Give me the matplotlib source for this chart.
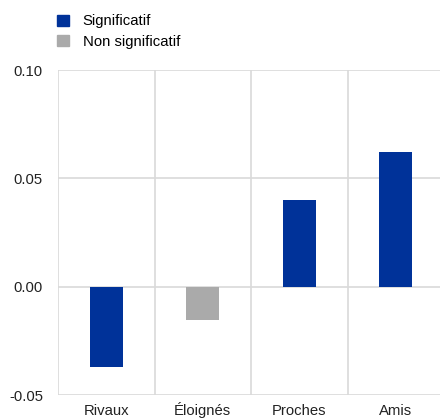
import matplotlib
matplotlib.use("Agg")
import matplotlib.pyplot as plt
from matplotlib.patches import Patch

plt.rcParams['font.family'] = ['Liberation Sans', 'DejaVu Sans']

categories = ["Rivaux", "Éloignés", "Proches", "Amis"]
values = [-0.037, -0.0152, 0.040, 0.062]
significant = [True, False, True, True]
y_ticks = [-0.05, 0.00, 0.05, 0.10]
y_tick_labels = ["-0.05", "0.00", "0.05", "0.10"]

BLUE = "#003299"
GREY = "#aaaaaa"
GRID = "#d9d9d9"
FS = 10.7

W, H = 440, 419
fig = plt.figure(figsize=(W / 100, H / 100), dpi=100)
# axes placed in pixel units
left, right, top, bottom = 58, 444, 70, 395
ax = fig.add_axes([left / W, 1 - bottom / H, (right - left) / W, (bottom - top) / H])

x = range(len(categories))
colors = [BLUE if s else GREY for s in significant]
ax.bar(x, values, width=0.34, color=colors, zorder=3)

ax.set_xlim(-0.5, len(categories) - 0.5)
ax.set_ylim(-0.05, 0.10)
ax.set_yticks(y_ticks)
ax.set_yticklabels(y_tick_labels)
ax.set_xticks(list(x))
ax.set_xticklabels(categories, va="baseline")

# vertical separators between categories
ax.set_xticks([i - 0.5 for i in range(len(categories) + 1)], minor=True)
ax.grid(True, which="minor", axis="x", color=GRID, linewidth=1.2, zorder=0)
ax.grid(True, which="major", axis="y", color=GRID, linewidth=1.2, zorder=0)
ax.grid(False, which="major", axis="x")

for s in ax.spines.values():
    s.set_visible(False)
ax.tick_params(axis="both", which="both", length=0, labelsize=FS, colors="#222222")
ax.tick_params(axis="x", pad=14.2)
ax.tick_params(axis="y", pad=10.8)

handles = [Patch(color=BLUE, label="Significatif"), Patch(color=GREY, label="Non significatif")]
fig.legend(handles=handles, loc="upper left", bbox_to_anchor=(57 / W, 1 - 14.5 / H),
           frameon=False, fontsize=FS, handlelength=0.8, handleheight=0.8,
           handletextpad=0.94, labelspacing=0.42, borderaxespad=0, borderpad=0)

fig.savefig("out.png", dpi=100)
